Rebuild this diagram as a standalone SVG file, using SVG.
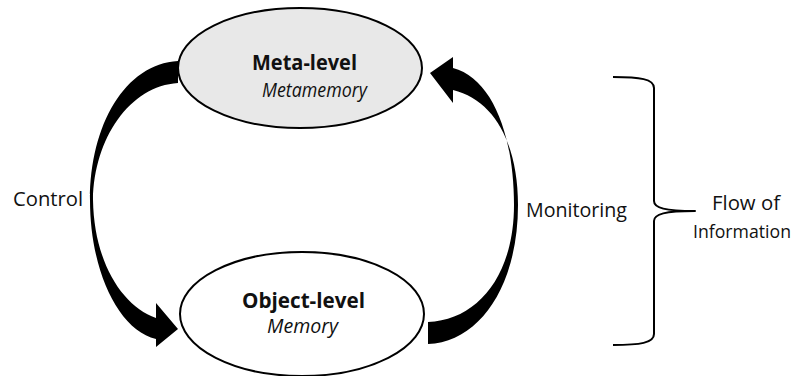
<svg xmlns="http://www.w3.org/2000/svg" width="802" height="376" viewBox="0 0 802 376">
  <style>
    .node { stroke: #000; stroke-width: 2; }
    .lbl { font-family: "Open Sans", "Liberation Sans", sans-serif; fill: #111; text-anchor: middle; }
    .title { font-size: 21px; font-weight: bold; }
    .sub { font-size: 20px; font-style: italic; }
    .side { font-size: 20px; }
    .arrow { fill: #000; stroke: none; }
    .brace { fill: none; stroke: #000; stroke-width: 2; stroke-linejoin: round; }
  </style>
  <rect width="802" height="376" fill="#fff"/>

  <g id="meta-level">
    <ellipse class="node" cx="300" cy="68" rx="122" ry="60" fill="#e8e8e8"/>
    <text class="lbl title" x="304.5" y="70" textLength="105" lengthAdjust="spacingAndGlyphs">Meta-level</text>
    <text class="lbl sub" x="314.5" y="97" textLength="105" lengthAdjust="spacingAndGlyphs">Metamemory</text>
  </g>

  <g id="object-level">
    <ellipse class="node" cx="302" cy="314" rx="122" ry="62" fill="#fff"/>
    <text class="lbl title" x="303.5" y="308" textLength="123" lengthAdjust="spacingAndGlyphs">Object-level</text>
    <text class="lbl sub" x="302.5" y="333" textLength="71" lengthAdjust="spacingAndGlyphs">Memory</text>
  </g>

  <g id="connectors">
    <!-- control: curved arrow from meta-level down to object-level -->
    <path id="control" class="arrow" d="M178,61 C125,64 90,125 90,200 C90,270 118,330 156,339 L156,347 L178,329 L156,303 L156,318 C122,306 94,262 93,200 C94,138 130,86 178,83 Z"/>
    <!-- monitoring: curved arrow from object-level up to meta-level -->
    <path id="monitoring" class="arrow" d="M428,344 C480,342 518,285 518,205 C518,145 495,100 453,90 L453,103 L430,73 L453,57 L453,68 C492,78 514,135 514,205 C514,275 478,320 428,322 Z"/>
  </g>

  <g id="control-label">
    <text class="lbl side" x="48" y="206" textLength="70" lengthAdjust="spacingAndGlyphs">Control</text>
  </g>
  <g id="monitoring-label">
    <text class="lbl side" x="576.5" y="217" textLength="101" lengthAdjust="spacingAndGlyphs">Monitoring</text>
  </g>

  <g id="flow-of-information">
    <path class="brace" d="M613,77 C640,77 654,79 654,88 L654,201 C654,208 665,211 695,211 C665,211 654,214 654,221 L654,334 C654,343 640,345 613,345"/>
    <text class="lbl side" x="746" y="210" textLength="68" lengthAdjust="spacingAndGlyphs">Flow of</text>
    <text class="lbl side" x="742" y="238" textLength="98" lengthAdjust="spacingAndGlyphs" style="font-size:19px">Information</text>
  </g>
</svg>
